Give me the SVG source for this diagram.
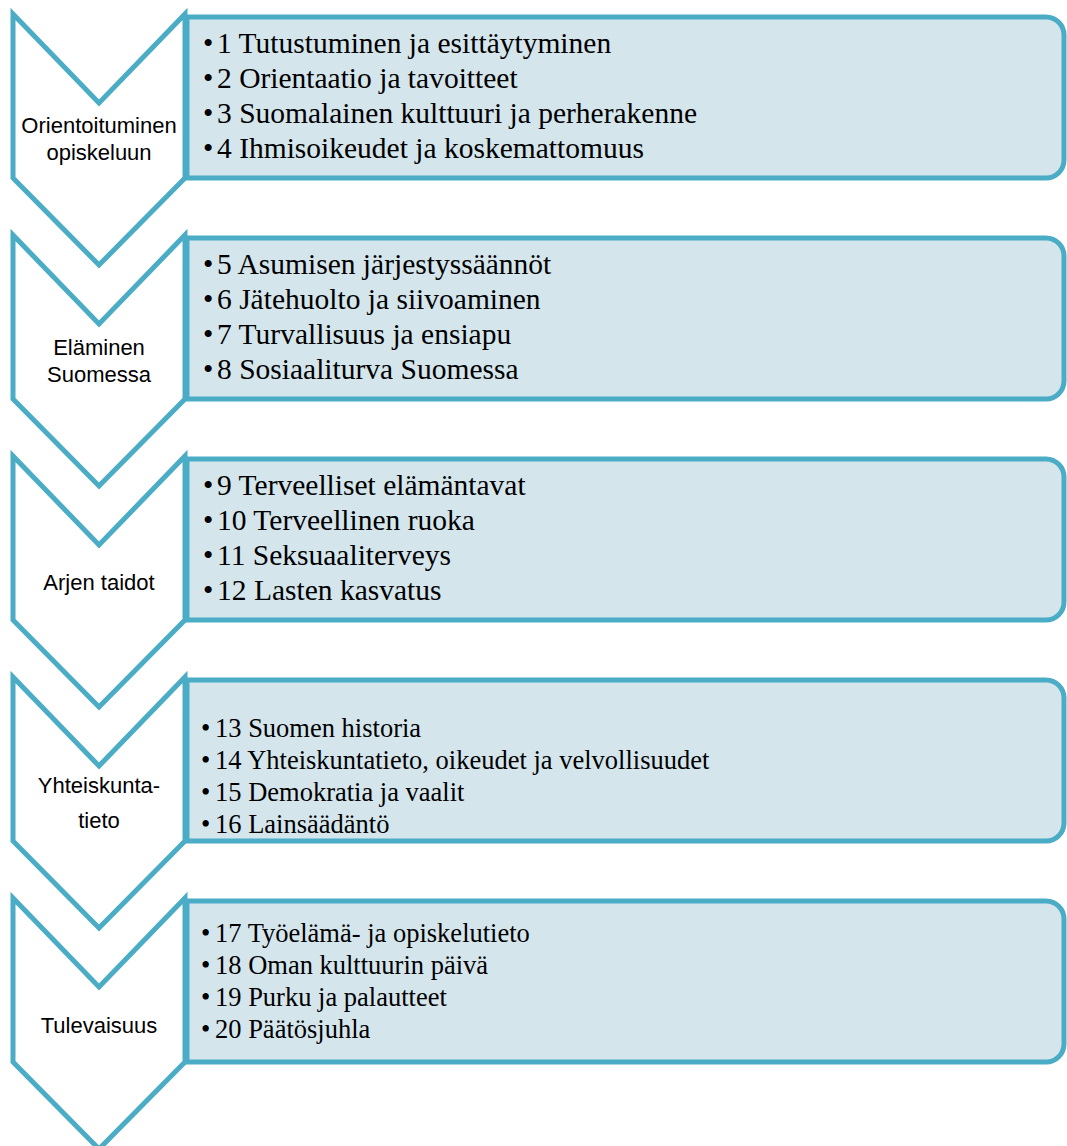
<svg xmlns="http://www.w3.org/2000/svg" width="1067" height="1146" viewBox="0 0 1067 1146">
<style>
.bg{fill:#ffffff}
.box{fill:#D4E5EC;stroke:#4BACC6;stroke-width:5}
.chev{fill:#ffffff;stroke:#4BACC6;stroke-width:5;stroke-linejoin:miter;stroke-miterlimit:10}
.lbl{font-family:"Liberation Sans",Arial,sans-serif;font-size:22px;fill:#000;text-anchor:middle}
.item{font-family:"Liberation Serif","Times New Roman",serif;font-size:29.5px;fill:#000}
.item2{font-family:"Liberation Serif","Times New Roman",serif;font-size:26.5px;fill:#000}
</style>
<rect class="bg" x="0" y="0" width="1067" height="1146"/>

<g id="box1">
<path class="box" d="M187,17 H1046 A18,18 0 0 1 1064,35 V160 A18,18 0 0 1 1046,178 H187 Z"/>
<text class="item"><tspan x="203" y="53">•</tspan><tspan x="217" y="53">1 Tutustuminen ja esittäytyminen</tspan></text>
<text class="item"><tspan x="203" y="88">•</tspan><tspan x="217" y="88">2 Orientaatio ja tavoitteet</tspan></text>
<text class="item"><tspan x="203" y="123">•</tspan><tspan x="217" y="123">3 Suomalainen kulttuuri ja perherakenne</tspan></text>
<text class="item"><tspan x="203" y="158">•</tspan><tspan x="217" y="158">4 Ihmisoikeudet ja koskemattomuus</tspan></text>
</g>
<g id="box2">
<path class="box" d="M187,238 H1046 A18,18 0 0 1 1064,256 V381 A18,18 0 0 1 1046,399 H187 Z"/>
<text class="item"><tspan x="203" y="274">•</tspan><tspan x="217" y="274">5 Asumisen järjestyssäännöt</tspan></text>
<text class="item"><tspan x="203" y="309">•</tspan><tspan x="217" y="309">6 Jätehuolto ja siivoaminen</tspan></text>
<text class="item"><tspan x="203" y="344">•</tspan><tspan x="217" y="344">7 Turvallisuus ja ensiapu</tspan></text>
<text class="item"><tspan x="203" y="379">•</tspan><tspan x="217" y="379">8 Sosiaaliturva Suomessa</tspan></text>
</g>
<g id="box3">
<path class="box" d="M187,459 H1046 A18,18 0 0 1 1064,477 V602 A18,18 0 0 1 1046,620 H187 Z"/>
<text class="item"><tspan x="203" y="495">•</tspan><tspan x="217" y="495">9 Terveelliset elämäntavat</tspan></text>
<text class="item"><tspan x="203" y="530">•</tspan><tspan x="217" y="530">10 Terveellinen ruoka</tspan></text>
<text class="item"><tspan x="203" y="565">•</tspan><tspan x="217" y="565">11 Seksuaaliterveys</tspan></text>
<text class="item"><tspan x="203" y="600">•</tspan><tspan x="217" y="600">12 Lasten kasvatus</tspan></text>
</g>
<g id="box4">
<path class="box" d="M187,680 H1046 A18,18 0 0 1 1064,698 V823 A18,18 0 0 1 1046,841 H187 Z"/>
<text class="item2"><tspan x="201" y="737">•</tspan><tspan x="215" y="737">13 Suomen historia</tspan></text>
<text class="item2"><tspan x="201" y="769">•</tspan><tspan x="215" y="769">14 Yhteiskuntatieto, oikeudet ja velvollisuudet</tspan></text>
<text class="item2"><tspan x="201" y="801">•</tspan><tspan x="215" y="801">15 Demokratia ja vaalit</tspan></text>
<text class="item2"><tspan x="201" y="833">•</tspan><tspan x="215" y="833">16 Lainsäädäntö</tspan></text>
</g>
<g id="box5">
<path class="box" d="M187,901 H1046 A18,18 0 0 1 1064,919 V1044 A18,18 0 0 1 1046,1062 H187 Z"/>
<text class="item2"><tspan x="201" y="942">•</tspan><tspan x="215" y="942">17 Työelämä- ja opiskelutieto</tspan></text>
<text class="item2"><tspan x="201" y="974">•</tspan><tspan x="215" y="974">18 Oman kulttuurin päivä</tspan></text>
<text class="item2"><tspan x="201" y="1006">•</tspan><tspan x="215" y="1006">19 Purku ja palautteet</tspan></text>
<text class="item2"><tspan x="201" y="1038">•</tspan><tspan x="215" y="1038">20 Päätösjuhla</tspan></text>
</g>

<g id="chevron1">
<polygon class="chev" points="13,14 99,103 185,14 185,178 99,265 13,178"/>
<text class="lbl" x="99" y="133">Orientoituminen</text>
<text class="lbl" x="99" y="160">opiskeluun</text>
</g>
<g id="chevron2">
<polygon class="chev" points="13,235 99,324 185,235 185,399 99,486 13,399"/>
<text class="lbl" x="99" y="355">Eläminen</text>
<text class="lbl" x="99" y="382">Suomessa</text>
</g>
<g id="chevron3">
<polygon class="chev" points="13,456 99,545 185,456 185,620 99,707 13,620"/>
<text class="lbl" x="99" y="590">Arjen taidot</text>
</g>
<g id="chevron4">
<polygon class="chev" points="13,677 99,766 185,677 185,841 99,928 13,841"/>
<text class="lbl" x="99" y="793">Yhteiskunta-</text>
<text class="lbl" x="99" y="828">tieto</text>
</g>
<g id="chevron5">
<polygon class="chev" points="13,898 99,987 185,898 185,1062 99,1149 13,1062"/>
<text class="lbl" x="99" y="1033">Tulevaisuus</text>
</g>
<g id="connectors"></g>
</svg>
